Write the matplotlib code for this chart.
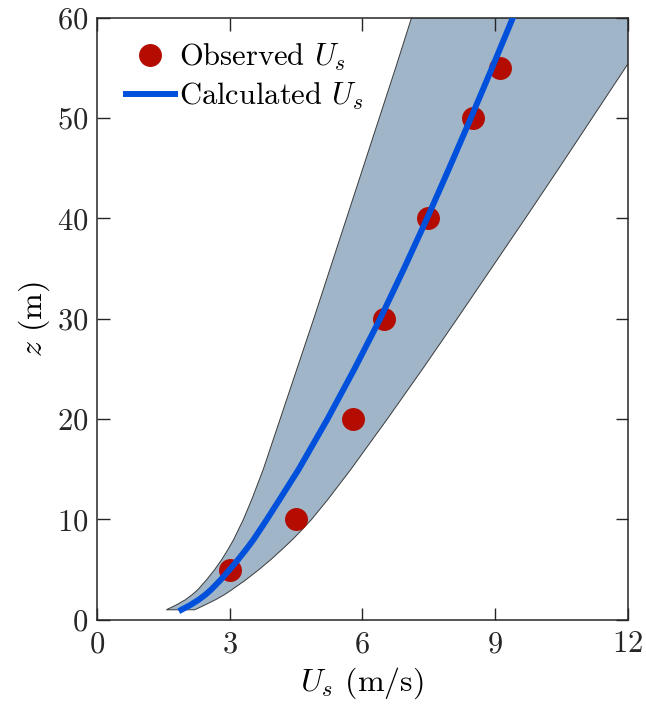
import numpy as np
import matplotlib
matplotlib.use("Agg")
import matplotlib.pyplot as plt
from matplotlib import rcParams

# heights (m) used for the calculated profile and its band
z_prof = [1, 1.5, 2, 2.5, 3, 4, 5, 6, 7, 8, 9, 10, 12, 15,
          20, 25, 30, 35, 40, 45, 50, 55, 60]
# calculated U_s (m/s)
us_calc = [1.91, 2.12, 2.30, 2.45, 2.58, 2.80, 3.00, 3.19, 3.37, 3.54, 3.69, 3.84,
           4.13, 4.56, 5.21, 5.82, 6.40, 6.94, 7.46, 7.96, 8.45, 8.93, 9.40]
# lower / upper bound of the band
us_low = [1.57, 1.80, 2.00, 2.15, 2.28, 2.48, 2.66, 2.82, 2.96, 3.09, 3.20, 3.31,
          3.50, 3.76, 4.14, 4.52, 4.90, 5.27, 5.64, 6.01, 6.38, 6.75, 7.11]
us_high = [2.21, 2.45, 2.68, 2.88, 3.05, 3.37, 3.66, 3.93, 4.18, 4.42, 4.64, 4.85,
           5.22, 5.74, 6.56, 7.36, 8.14, 8.91, 9.68, 10.44, 11.19, 11.94, 12.69]

# observed points
z_obs = [5, 10, 20, 30, 40, 50, 55]
us_obs = [3.00, 4.49, 5.79, 6.49, 7.49, 8.50, 9.11]

rcParams["font.family"] = "cmr10"
rcParams["mathtext.fontset"] = "cm"
rcParams["axes.formatter.use_mathtext"] = True

fig = plt.figure(figsize=(6.46, 7.10), dpi=100)
ax = fig.add_axes([0.150, 0.127, 0.822, 0.848])

# band
poly_x = us_low + us_high[::-1]
poly_y = z_prof + z_prof[::-1]
ax.fill(poly_x, poly_y, facecolor="#a0b5c8", edgecolor="#3a3a3a",
        linewidth=0.7, zorder=1)

ax.plot(us_obs, z_obs, "o", color="#b40c00", markersize=15.5,
        label=r"Observed $U_s$", zorder=2)
ax.plot(us_calc, z_prof, "-", color="#0050dc", linewidth=4.3,
        label=r"Calculated $U_s$", zorder=3)

ax.set_xlim(0, 12)
ax.set_ylim(0, 60)
ax.set_xticks([0, 3, 6, 9, 12])
ax.set_yticks([0, 10, 20, 30, 40, 50, 60])
ax.tick_params(direction="in", length=9, width=1.0, top=True, right=True,
               labelsize=22, colors="#262626", pad=6)
ax.tick_params(axis="x", pad=8)
for s in ax.spines.values():
    s.set_linewidth(1.1)
    s.set_color("#262626")

ax.set_xlabel(r"$U_s$ (m/s)", fontsize=23, labelpad=5)
ax.set_ylabel(r"$z$ (m)", fontsize=23, labelpad=4)

ax.legend(loc="upper left", bbox_to_anchor=(0.02, 0.99), frameon=False,
          fontsize=22, handlelength=1.6, handletextpad=0.15,
          labelspacing=0.25, borderaxespad=0.2)

fig.savefig("out.png", dpi=100)
